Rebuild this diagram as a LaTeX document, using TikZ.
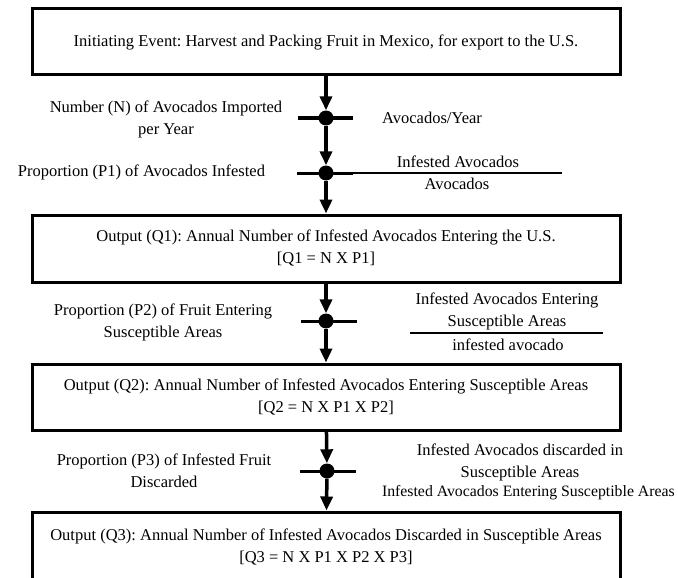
\documentclass[tikz,border=0pt]{standalone}
\usepackage{fontspec}
\setmainfont{Liberation Serif}
\frenchspacing
\usetikzlibrary{arrows.meta}
\tikzset{
  box/.style={draw, line width=3pt, minimum width=588pt, align=center, inner sep=0pt},
  dot/.style={circle, fill, inner sep=0pt, minimum size=15pt},
  lbl/.style={align=center, inner sep=0pt},
  flow/.style={line width=3.5pt, -{Triangle[length=14pt,width=12pt]}},
  bar/.style={line width=3pt},
  frac/.style={line width=1.5pt}
}

\begin{document}
\begin{tikzpicture}[x=1pt, y=-1pt, font=\fontsize{16.5}{22}\selectfont]
\useasboundingbox (0,0) rectangle (678,578);
\node[box, minimum height=66pt] (start) at (326,42) {Initiating Event: Harvest and Packing Fruit in Mexico, for export to the U.S.};
\node[box, minimum height=67pt] (q1) at (326,248.5) {Output (Q1): Annual Number of Infested Avocados Entering the U.S.\\{}[Q1 = N X P1]};
\node[box, minimum height=66pt] (q2) at (326,397) {Output (Q2): Annual Number of Infested Avocados Entering Susceptible Areas\\{}[Q2 = N X P1 X P2]};
\node[box, minimum height=70pt] (q3) at (326,547) {Output (Q3): Annual Number of Infested Avocados Discarded in Susceptible Areas\\{}[Q3 = N X P1 X P2 X P3]};
\node[dot] (n) at (326,118) {};
\node[dot] (p1) at (326,173) {};
\node[dot] (p2) at (326,321) {};
\node[dot] (p3) at (327,471) {};
\draw[flow] (start) -- (n);
\draw[flow] (n) -- (p1);
\draw[flow] (p1) -- (q1);
\draw[flow] (q1) -- (p2);
\draw[flow] (p2) -- (q2);
\draw[flow] (q2) -- (p3);
\draw[flow] (p3) -- (q3);
\draw[bar] ([xshift=-28pt]n.center) -- ([xshift=27pt]n.center);
\draw[bar] ([xshift=-29pt]p1.center) -- ([xshift=27pt]p1.center);
\draw[frac] ([xshift=27pt]p1.center) -- (562,173);
\draw[bar] ([xshift=-25pt]p2.center) -- ([xshift=31pt]p2.center);
\draw[bar] ([xshift=-27pt]p3.center) -- ([xshift=29pt]p3.center);
\node[lbl] (nname) at (166,119) {Number (N) of Avocados Imported\\per Year};
\node[lbl, anchor=west] (nunit) at (382,118) {Avocados/Year};
\node[lbl] (p1name) at (141.5,172) {Proportion (P1) of Avocados Infested};
\node[lbl] (p1num) at (458,162) {Infested Avocados};
\node[lbl] (p1den) at (457,184) {Avocados};
\node[lbl] (p2name) at (163,322) {Proportion (P2) of Fruit Entering\\Susceptible Areas};
\node[lbl] (p2num) at (507,311) {Infested Avocados Entering\\Susceptible Areas};
\draw[frac] (410,333) -- (603,333);
\node[lbl] (p2den) at (508,345) {infested avocado};
\node[lbl] (p3name) at (164,471) {Proportion (P3) of Infested Fruit\\Discarded};
\node[lbl] (p3num) at (520,462.5) {Infested Avocados discarded in\\Susceptible Areas};
\node[lbl, anchor=east, font=\fontsize{15.8}{22}\selectfont] (p3den) at (675,493) {Infested Avocados Entering Susceptible Areas};
\end{tikzpicture}
\end{document}
